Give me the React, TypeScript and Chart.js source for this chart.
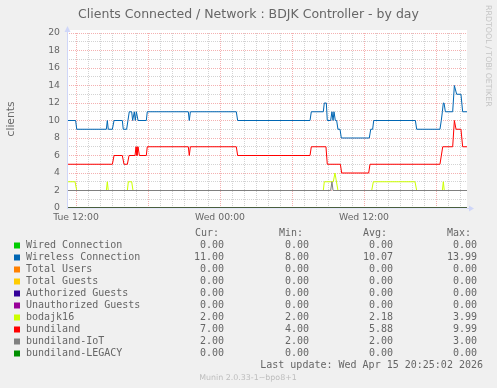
import React, { useEffect, useRef } from "react";
import { Chart, registerables } from "chart.js";

Chart.register(...registerables);

// ---------------- data ----------------
// time axis: hours relative to "Tue 12:00"
const X_MIN = -0.75;
const X_MAX = 32.583;

const gridHours = [0, 1, 2, 3, 4, 5, 6, 7, 8, 9, 10, 11, 12, 13, 14, 15, 16, 17, 18, 19, 20, 21, 22, 23, 24, 25, 26, 27, 28, 29, 30, 31, 32];
const xLabelHours = [0, 12, 24];
const xLabelTexts = ["Tue 12:00", "Wed 00:00", "Wed 12:00"];
const yTicks = [0, 1, 2, 3, 4, 5, 6, 7, 8, 9, 10, 11, 12, 13, 14, 15, 16, 17, 18, 19, 20];

const seriesNames = [
  "Wired Connection",
  "Wireless Connection",
  "Total Users",
  "Total Guests",
  "Authorized Guests",
  "Unauthorized Guests",
  "bodajk16",
  "bundiland",
  "bundiland-IoT",
  "bundiland-LEGACY",
];
const seriesColors = ["#00cc00", "#0066b3", "#ff8000", "#ffcc00", "#330099", "#990099", "#ccff00", "#ff0000", "#808080", "#008f00"];
const curValues = ["0.00", "11.00", "0.00", "0.00", "0.00", "0.00", "2.00", "7.00", "2.00", "0.00"];
const minValues = ["0.00", "8.00", "0.00", "0.00", "0.00", "0.00", "2.00", "4.00", "2.00", "0.00"];
const avgValues = ["0.00", "10.07", "0.00", "0.00", "0.00", "0.00", "2.18", "5.88", "2.00", "0.00"];
const maxValues = ["0.00", "13.99", "0.00", "0.00", "0.00", "0.00", "3.99", "9.99", "3.00", "0.00"];

const zeroHours = [X_MIN, X_MAX];
const zeroValues = [0, 0];

const wirelessHours = [-0.75, -0.03, 0.06, 2.53, 2.61, 2.69, 3.03, 3.17, 3.86, 3.94, 4.22, 4.33, 4.44, 4.64, 4.72, 4.86, 4.94, 5.03, 5.17, 5.86, 5.94, 9.36, 9.44, 9.53, 13.36, 13.47, 19.5, 19.61, 20.61, 20.69, 20.86, 20.94, 21.22, 21.33, 21.42, 21.5, 21.61, 21.72, 21.83, 22.0, 22.11, 24.44, 24.56, 24.72, 24.81, 28.28, 28.39, 30.33, 30.44, 30.53, 30.61, 30.67, 30.78, 31.39, 31.53, 31.72, 32.08, 32.22, 32.583];
const wirelessValues = [10, 10, 9, 9, 10, 9, 9, 10, 10, 9, 9, 10, 11, 11, 10, 11, 10, 11, 10, 10, 11, 11, 10, 11, 11, 10, 10, 11, 11, 12, 12, 10, 10, 11, 10, 11, 10, 10, 9, 9, 8, 8, 9, 9, 10, 10, 9, 9, 10, 11, 12, 12, 11, 11, 14, 13, 13, 11, 11];

const bundilandHours = [-0.75, 3.03, 3.17, 3.86, 4.0, 4.28, 4.42, 4.92, 5.0, 5.08, 5.17, 5.28, 5.86, 5.94, 9.36, 9.44, 9.53, 13.36, 13.47, 19.5, 19.61, 20.83, 20.94, 22.03, 22.14, 24.39, 24.5, 30.33, 30.56, 31.39, 31.53, 31.67, 32.08, 32.22, 32.583];
const bundilandValues = [5, 5, 6, 6, 5, 5, 6, 6, 7, 6, 7, 6, 6, 7, 7, 6, 7, 7, 6, 6, 7, 7, 5, 5, 4, 4, 5, 5, 7, 7, 10, 9, 9, 7, 7];

const bodajkHours = [-0.75, -0.08, 0.06, 2.53, 2.61, 2.69, 4.28, 4.36, 4.64, 4.75, 20.61, 20.69, 21.44, 21.58, 21.83, 24.64, 24.78, 28.25, 28.39, 30.53, 30.61, 30.69, 32.583];
const bodajkValues = [3, 3, 2, 2, 3, 2, 2, 3, 3, 2, 2, 3, 3, 4, 2, 2, 3, 3, 2, 2, 3, 2, 2];

const iotHours = [-0.75, 21.22, 21.33, 21.42, 32.583];
const iotValues = [2, 2, 3, 2, 2];

const seriesHours = [zeroHours, wirelessHours, zeroHours, zeroHours, zeroHours, zeroHours, bodajkHours, bundilandHours, iotHours, zeroHours];
const seriesValues = [zeroValues, wirelessValues, zeroValues, zeroValues, zeroValues, zeroValues, bodajkValues, bundilandValues, iotValues, zeroValues];

const TITLE = "Clients Connected / Network : BDJK Controller - by day";
const Y_TITLE = "clients";
const SIDE_TEXT = "RRDTOOL / TOBI OETIKER";
const LAST_UPDATE = "Last update: Wed Apr 15 20:25:02 2026";
const VERSION_TEXT = "Munin 2.0.33-1~bpo8+1";
const HEADERS = ["Cur:", "Min:", "Avg:", "Max:"];

// ---------------- style ----------------
const W = 497;
const H = 388;
const BG = "#f0f0f0";
const FONT_COLOR = "#666666";
const AXIS_COLOR = "#cfd6f8";
const GRID_COLOR = "rgba(140,140,140,0.38)";
const MGRID_COLOR = "rgba(228,70,70,0.42)";
const SANS = "'DejaVu Sans', sans-serif";
const MONO = "'DejaVu Sans Mono', monospace";

const decorPlugin = {
  id: "muninDecor",
  beforeDraw(chart: any) {
    const { ctx, chartArea } = chart;
    ctx.save();
    ctx.fillStyle = BG;
    ctx.fillRect(0, 0, W, H);
    ctx.fillStyle = "#ffffff";
    ctx.fillRect(chartArea.left, chartArea.top - 3, chartArea.right - chartArea.left, chartArea.bottom - chartArea.top + 3);
    ctx.restore();
  },
  beforeDatasetsDraw(chart: any) {
    const { ctx, chartArea } = chart;
    ctx.save();
    ctx.strokeStyle = AXIS_COLOR;
    ctx.lineWidth = 1;
    ctx.beginPath();
    ctx.moveTo(chartArea.left, chartArea.bottom + 0.5);
    ctx.lineTo(chartArea.right + 2, chartArea.bottom + 0.5);
    ctx.stroke();
    ctx.restore();
  },
  afterDatasetsDraw(chart: any) {
    const { ctx, chartArea } = chart;
    const l = chartArea.left;
    const b = chartArea.bottom;
    ctx.save();
    // soften the zero line like rrdtool's half-pixel line
    ctx.strokeStyle = "rgba(255,255,255,0.42)";
    ctx.lineWidth = 1;
    ctx.beginPath();
    ctx.moveTo(l, b + 0.5);
    ctx.lineTo(chartArea.right, b + 0.5);
    ctx.stroke();
    // y axis line + arrow
    ctx.strokeStyle = AXIS_COLOR;
    ctx.beginPath();
    ctx.moveTo(l + 0.5, chartArea.top - 2);
    ctx.lineTo(l + 0.5, b + 1);
    ctx.stroke();
    ctx.fillStyle = AXIS_COLOR;
    ctx.beginPath();
    ctx.moveTo(l + 0.5, chartArea.top - 7);
    ctx.lineTo(l - 2.5, chartArea.top - 1);
    ctx.lineTo(l + 3.5, chartArea.top - 1);
    ctx.closePath();
    ctx.fill();
    // x axis arrow
    ctx.beginPath();
    ctx.moveTo(chartArea.right + 2, b - 2.5);
    ctx.lineTo(chartArea.right + 7, b + 0.5);
    ctx.lineTo(chartArea.right + 2, b + 3.5);
    ctx.closePath();
    ctx.fill();
    ctx.restore();
  },
  afterDraw(chart: any) {
    const { ctx } = chart;
    ctx.save();
    ctx.fillStyle = FONT_COLOR;
    // title
    ctx.font = `12.5px ${SANS}`;
    ctx.textAlign = "center";
    ctx.textBaseline = "alphabetic";
    ctx.fillText(TITLE, 248.5, 18);
    // y axis title
    ctx.save();
    ctx.translate(11, 119);
    ctx.rotate(-Math.PI / 2);
    ctx.font = `10.7px ${SANS}`;
    ctx.textBaseline = "middle";
    ctx.fillText(Y_TITLE, 0, 0);
    ctx.restore();
    // side text
    ctx.save();
    ctx.translate(488.5, 5);
    ctx.rotate(Math.PI / 2);
    ctx.font = `7.9px ${SANS}`;
    ctx.fillStyle = "#c4c4c4";
    ctx.textAlign = "left";
    ctx.textBaseline = "middle";
    ctx.fillText(SIDE_TEXT, 0, 0);
    ctx.restore();

    // legend
    ctx.font = `10px ${MONO}`;
    ctx.textBaseline = "middle";
    const headerX = [195, 279, 363, 447];
    const colRight = [224, 309, 393, 477];
    ctx.textAlign = "left";
    HEADERS.forEach((h, i) => ctx.fillText(h, headerX[i], 233.5));
    seriesNames.forEach((name, i) => {
      const y = 245.5 + 12 * i;
      ctx.fillStyle = seriesColors[i];
      ctx.fillRect(14, y - 3, 6, 6);
      ctx.fillStyle = FONT_COLOR;
      ctx.textAlign = "left";
      ctx.fillText(name, 26, y);
      ctx.textAlign = "right";
      const vals = [curValues[i], minValues[i], avgValues[i], maxValues[i]];
      vals.forEach((v, j) => ctx.fillText(v, colRight[j], y));
    });
    ctx.textAlign = "right";
    ctx.fillText(LAST_UPDATE, 483, 365.5);
    ctx.font = `7.9px ${SANS}`;
    ctx.fillStyle = "#bdbdbd";
    ctx.textAlign = "center";
    ctx.fillText(VERSION_TEXT, 248, 377.5);
    ctx.restore();
  },
};

export default function App() {
  const ref = useRef<HTMLCanvasElement>(null);
  useEffect(() => {
    document.body.style.margin = "0";
    document.body.style.background = BG;
    const canvas = ref.current;
    if (!canvas) return;
    const datasets = seriesNames.map((name, i) => ({
      label: name,
      data: seriesHours[i].map((h, k) => ({ x: h, y: seriesValues[i][k] })),
      borderColor: seriesColors[i],
      backgroundColor: seriesColors[i],
      borderWidth: 1,
      pointRadius: 0,
      tension: 0,
      fill: false,
      order: seriesNames.length - i,
    }));
    const chart = new Chart(canvas, {
      type: "line",
      data: { datasets },
      plugins: [decorPlugin],
      options: {
        animation: false,
        responsive: false,
        devicePixelRatio: 1,
        events: [],
        layout: { padding: { left: 0, right: 30, top: 33, bottom: 160 } },
        plugins: { legend: { display: false }, tooltip: { enabled: false }, title: { display: false } },
        scales: {
          x: {
            type: "linear",
            min: X_MIN,
            max: X_MAX,
            afterFit: (s: any) => {
              s.height = 20;
            },
            afterBuildTicks: (s: any) => {
              s.ticks = gridHours.map((v) => ({ value: v }));
            },
            grid: {
              color: (c: any) => (c.tick && c.tick.value % 6 === 0 ? MGRID_COLOR : GRID_COLOR),
              lineWidth: 1,
              drawTicks: false,
            },
            border: { display: false, dash: [1, 1] },
            ticks: {
              autoSkip: false,
              maxRotation: 0,
              minRotation: 0,
              padding: 4,
              color: FONT_COLOR,
              font: { family: SANS, size: 9.3 },
              callback: (v: any) => {
                const k = xLabelHours.indexOf(Number(v));
                return k >= 0 ? xLabelTexts[k] : "";
              },
            },
          },
          y: {
            type: "linear",
            min: 0,
            max: 20,
            afterFit: (s: any) => {
              s.width = 67;
            },
            afterBuildTicks: (s: any) => {
              s.ticks = yTicks.map((v) => ({ value: v }));
            },
            grid: {
              color: (c: any) => (c.tick && c.tick.value % 2 === 0 ? MGRID_COLOR : GRID_COLOR),
              lineWidth: 1,
              drawTicks: false,
            },
            border: { display: false, dash: [1, 1] },
            ticks: {
              autoSkip: false,
              padding: 7,
              color: FONT_COLOR,
              font: { family: SANS, size: 9.3 },
              callback: (v: any) => (Number(v) % 2 === 0 ? String(v) : ""),
            },
          },
        },
      },
    } as any);
    return () => chart.destroy();
  }, []);
  return (
    <div style={{ position: "absolute", left: 0, top: 0, width: W, height: H }}>
      <canvas ref={ref} width={W} height={H} style={{ display: "block", width: W, height: H }} />
    </div>
  );
}
